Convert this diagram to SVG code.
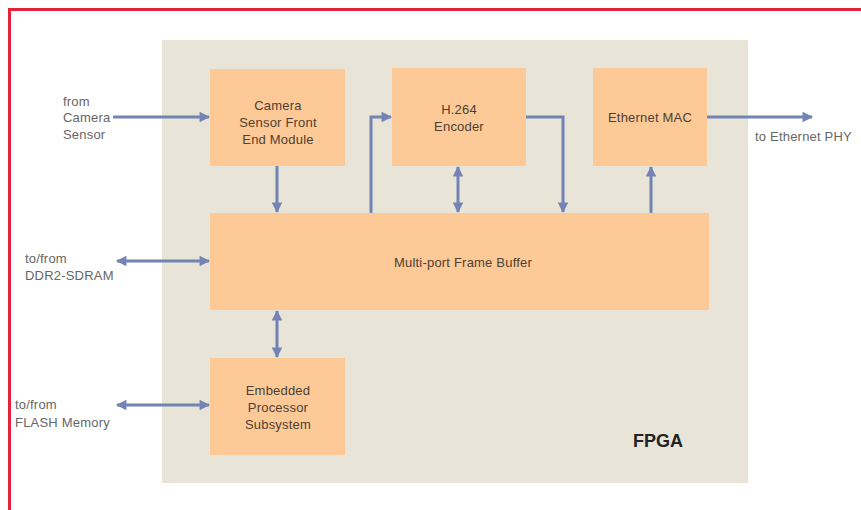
<svg xmlns="http://www.w3.org/2000/svg" width="861" height="510" viewBox="0 0 861 510">
<style>
.blk{fill:#fdca97;}
.t{font-family:"Liberation Sans",Arial,sans-serif;font-size:13px;fill:#4d3f33;text-anchor:middle;letter-spacing:0.2px;}
.o{font-family:"Liberation Sans",Arial,sans-serif;font-size:13px;fill:#666;letter-spacing:0.2px;}
.c{stroke:#7384b4;stroke-width:3;fill:none;}
</style>
<defs>
<marker id="ah" viewBox="0 0 10 10" refX="9" refY="5" markerWidth="4.5" markerHeight="3.5" orient="auto-start-reverse" markerUnits="strokeWidth">
<path d="M0,0 L10,5 L0,10 z" fill="#7384b4"/>
</marker>
</defs>
<rect width="861" height="510" fill="#ffffff"/>
<path d="M9.5,510 L9.5,9.5 L861,9.5" fill="none" stroke="#e8203a" stroke-width="3"/>
<g id="fpga">
<rect x="162" y="40" width="586" height="443" fill="#e8e4d8"/>
<text x="633" y="447" font-family="Liberation Sans,Arial,sans-serif" font-size="18" font-weight="bold" fill="#222">FPGA</text>
</g>
<g id="camera">
<rect class="blk" x="210" y="69" width="135" height="97"/>
<text class="t" x="278" y="110">Camera</text>
<text class="t" x="278" y="127">Sensor Front</text>
<text class="t" x="278" y="144">End Module</text>
</g>
<g id="h264">
<rect class="blk" x="392" y="68" width="134" height="98"/>
<text class="t" x="459" y="114">H.264</text>
<text class="t" x="459" y="131">Encoder</text>
</g>
<g id="mac">
<rect class="blk" x="593" y="68" width="114" height="98"/>
<text class="t" x="650" y="122">Ethernet MAC</text>
</g>
<g id="fb">
<rect class="blk" x="210" y="213" width="499" height="97"/>
<text class="t" x="463" y="267">Multi-port Frame Buffer</text>
</g>
<g id="cpu">
<rect class="blk" x="210" y="358" width="135" height="97"/>
<text class="t" x="278" y="395">Embedded</text>
<text class="t" x="278" y="412">Processor</text>
<text class="t" x="278" y="429">Subsystem</text>
</g>
<g id="labels">
<text class="o" x="63" y="106">from</text>
<text class="o" x="63" y="122">Camera</text>
<text class="o" x="63" y="139">Sensor</text>
<text class="o" x="755" y="141">to Ethernet PHY</text>
<text class="o" x="25" y="263">to/from</text>
<text class="o" x="25" y="280">DDR2-SDRAM</text>
<text class="o" x="15" y="409">to/from</text>
<text class="o" x="15" y="427">FLASH Memory</text>
</g>
<g id="connectors">
<path class="c" d="M113,117 L209,117" marker-end="url(#ah)"/>
<path class="c" d="M277,166 L277,212" marker-end="url(#ah)"/>
<path class="c" d="M371,213 L371,117 L391,117" marker-end="url(#ah)"/>
<path class="c" d="M458,167 L458,212" marker-start="url(#ah)" marker-end="url(#ah)"/>
<path class="c" d="M526,117 L563,117 L563,212" marker-end="url(#ah)"/>
<path class="c" d="M651,213 L651,167" marker-end="url(#ah)"/>
<path class="c" d="M707,117 L812,117" marker-end="url(#ah)"/>
<path class="c" d="M117,261 L209,261" marker-start="url(#ah)" marker-end="url(#ah)"/>
<path class="c" d="M277,311 L277,357" marker-start="url(#ah)" marker-end="url(#ah)"/>
<path class="c" d="M117,405 L209,405" marker-start="url(#ah)" marker-end="url(#ah)"/>
</g>
</svg>
